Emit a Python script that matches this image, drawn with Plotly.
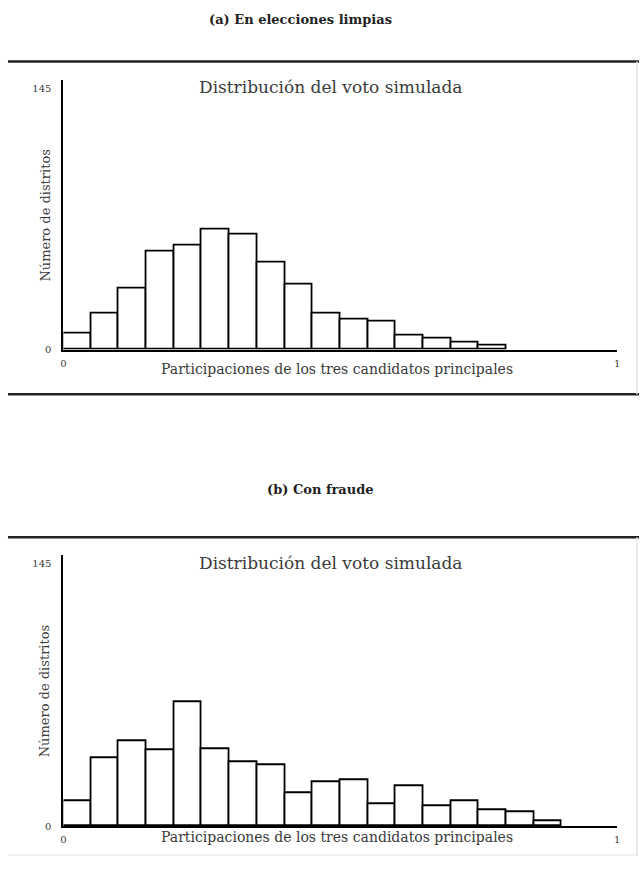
import plotly.graph_objects as go

# ---- data ----
bin_left_a = [0.00, 0.05, 0.10, 0.15, 0.20, 0.25, 0.30, 0.35, 0.40, 0.45, 0.50, 0.55, 0.60, 0.65, 0.70, 0.75]
counts_a = [9.2, 19.8, 34.2, 54.7, 57.7, 66.7, 64.0, 48.5, 36.0, 19.8, 16.5, 15.8, 7.9, 6.4, 4.2, 2.4]

bin_left_b = [0.00, 0.05, 0.10, 0.15, 0.20, 0.25, 0.30, 0.35, 0.40, 0.45, 0.50, 0.55, 0.60, 0.65, 0.70, 0.75, 0.80, 0.85]
counts_b = [14.0, 37.5, 46.9, 41.7, 68.2, 42.6, 35.5, 33.6, 18.2, 24.1, 25.4, 12.0, 22.2, 10.9, 14.0, 8.8, 7.9, 2.9]
bin_width = 0.05

panel_titles = ["(a) En elecciones limpias", "(b) Con fraude"]
subtitle = "Distribución del voto simulada"
x_title = "Participaciones de los tres candidatos principales"
y_title = "Número de distritos"
y_tick_vals = [0, 145]
y_tick_text = ["0", "145"]
x_tick_vals = [0, 1]
x_tick_text = ["0", "1"]

W, H = 642, 873
FONT = "DejaVu Serif"
TXT = "#3a3a3a"

def py(p):
    return 1 - p / H

def px(p):
    return p / W

fig = go.Figure()

for left, cnt, ax in [(bin_left_a, counts_a, ""), (bin_left_b, counts_b, "2")]:
    fig.add_trace(go.Bar(
        x=left, y=cnt, width=[bin_width] * len(left), offset=0,
        marker=dict(color="white", line=dict(color="black", width=1.8)),
        xaxis="x" + ax, yaxis="y" + ax, showlegend=False, hoverinfo="skip",
    ))

xdom = [px(61), px(620)]
panels = [
    dict(top=81, base=352, rule_top=62, rule_bot=397, title_y=20, title_x=300, sub_y=88, xt_y=372),
    dict(top=559, base=832, rule_top=541, rule_bot=None, title_y=493, title_x=320, sub_y=567, xt_y=843),
]

axis_common = dict(showgrid=False, zeroline=False, ticks="", showline=True,
                   linecolor="black", linewidth=2,
                   tickfont=dict(family=FONT, size=10, color=TXT))

layout = dict(
    width=W, height=H, margin=dict(l=0, r=0, t=0, b=0),
    paper_bgcolor="white", plot_bgcolor="white", bargap=0,
    font=dict(family=FONT, color=TXT),
)
for i, p in enumerate(panels):
    sfx = "" if i == 0 else "2"
    layout["xaxis" + sfx] = dict(axis_common, domain=xdom, range=[0, 1],
                                 tickvals=x_tick_vals, ticktext=x_tick_text,
                                 ticklabelstandoff=3, anchor="y" + sfx)
    layout["yaxis" + sfx] = dict(axis_common, domain=[py(p["base"]), py(p["top"])],
                                 range=[0, 149.4], tickvals=y_tick_vals,
                                 ticktext=y_tick_text, ticklabelstandoff=8,
                                 anchor="x" + sfx)
fig.update_layout(**layout)

shapes = []
annotations = []
def ann(text, x, y, size, color=TXT, angle=0):
    return dict(text=text, x=px(x), y=py(y), xref="paper", yref="paper",
                xanchor="center", yanchor="middle", showarrow=False, textangle=angle,
                font=dict(family=FONT, size=size, color=color))

def hline(y, color, width):
    return dict(type="line", xref="paper", yref="paper", x0=px(5), x1=1,
                y0=py(y), y1=py(y), line=dict(color=color, width=width))

for i, p in enumerate(panels):
    annotations.append(ann("<b>" + panel_titles[i] + "</b>", p["title_x"], p["title_y"], 13, "#222"))
    annotations.append(ann(subtitle, 331, p["sub_y"], 17))
    annotations.append(ann(x_title, 337, p["xt_y"], 14))
    annotations.append(ann(y_title, 42, (p["top"] + p["base"]) / 2, 13, angle=-90))
    shapes.append(hline(p["rule_top"], "#222", 2.5))
    if p["rule_bot"]:
        shapes.append(hline(p["rule_bot"], "#222", 2.5))

# faint frame remnants of the scanned page
shapes.append(hline(861, "#ececec", 1.5))
for y0, y1 in [(62, 397), (541, 861)]:
    shapes.append(dict(type="line", xref="paper", yref="paper", x0=px(640), x1=px(640),
                       y0=py(y0), y1=py(y1), line=dict(color="#e4e4e4", width=1.5)))

fig.update_layout(shapes=shapes, annotations=annotations)
fig.write_html("out.html", config={"displayModeBar": False},
               post_script="document.body.style.margin='0';document.body.style.overflow='hidden';")
